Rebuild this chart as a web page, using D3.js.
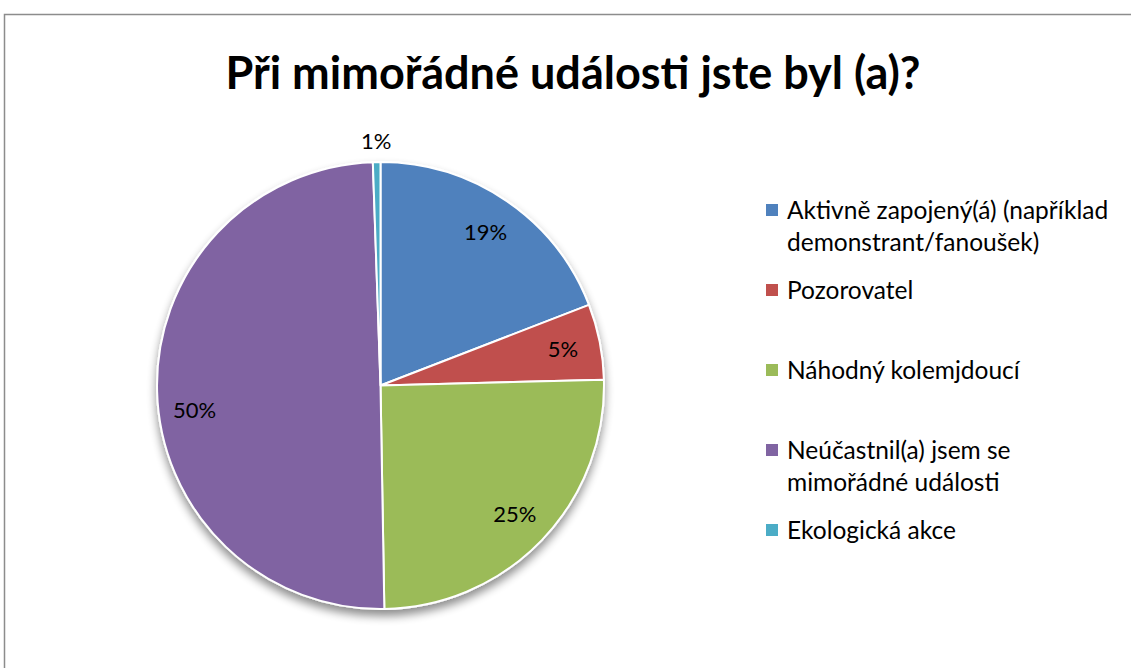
<!DOCTYPE html>
<html>
<head>
<meta charset="utf-8">
<script src="https://cdn.jsdelivr.net/npm/d3@7"></script>
<style>
  body { margin: 0; background: #fff; }
  text { font-family: Lato, "Open Sans", sans-serif; fill: #000; }
</style>
</head>
<body>
<div id="chart"></div>
<script>
var width = 1131;
var height = 668;

// data
var categories = [
  "Aktivně zapojený(á) (například demonstrant/fanoušek)",
  "Pozorovatel",
  "Náhodný kolemjdoucí",
  "Neúčastnil(a) jsem se mimořádné události",
  "Ekologická akce"
];
var legendLines = [
  ["Aktivně zapojený(á) (například", "demonstrant/fanoušek)"],
  ["Pozorovatel"],
  ["Náhodný kolemjdoucí"],
  ["Neúčastnil(a) jsem se", "mimořádné události"],
  ["Ekologická akce"]
];
var counts = [35, 10, 46, 91, 1];
var colors = ["#4F81BD", "#C0504D", "#9BBB59", "#8064A2", "#4BACC6"];
var legendY = [210, 290, 370, 450, 530];

var total = d3.sum(counts);

var svg = d3.select("#chart")
  .append("svg")
  .attr("width", width)
  .attr("height", height);

// shadow filter
var defs = svg.append("defs");
var filter = defs.append("filter")
  .attr("id", "shadow")
  .attr("x", "-20%").attr("y", "-20%")
  .attr("width", "140%").attr("height", "140%");
filter.append("feGaussianBlur").attr("in", "SourceAlpha").attr("stdDeviation", 5);
filter.append("feOffset").attr("dx", 0).attr("dy", 6).attr("result", "blur");
filter.append("feComponentTransfer").append("feFuncA").attr("type", "linear").attr("slope", 0.45);
var merge = filter.append("feMerge");
merge.append("feMergeNode");
merge.append("feMergeNode").attr("in", "SourceGraphic");

// chart frame
svg.append("path")
  .attr("d", "M4.5," + (height + 5) + "V14.5H" + (width + 5))
  .attr("fill", "none")
  .attr("stroke", "#8c8c8c")
  .attr("stroke-width", 1.5);

// title
svg.append("text")
  .attr("x", 573)
  .attr("y", 89)
  .attr("text-anchor", "middle")
  .style("font-size", "45px")
  .style("font-weight", "bold")
  .text("Při mimořádné události jste byl (a)?");

// pie
var cx = 380.5, cy = 385.5, radius = 223.5;

var pie = d3.pie().sort(null).value(function (d) { return d; });
var arcs = pie(counts);

var arc = d3.arc().innerRadius(0).outerRadius(radius);
var labelArc = d3.arc().innerRadius(186).outerRadius(186);
var outerLabelArc = d3.arc().innerRadius(244).outerRadius(244);

var g = svg.append("g")
  .attr("transform", "translate(" + cx + "," + cy + ")");

g.append("g")
  .attr("filter", "url(#shadow)")
  .selectAll("path")
  .data(arcs)
  .enter()
  .append("path")
  .attr("d", arc)
  .attr("fill", function (d, i) { return colors[i]; })
  .attr("stroke", "#fff")
  .attr("stroke-width", 2)
  .attr("stroke-linejoin", "round");

g.selectAll("text.pct")
  .data(arcs)
  .enter()
  .append("text")
  .attr("class", "pct")
  .attr("transform", function (d) {
    var p = (d.endAngle - d.startAngle) < 0.1 ? outerLabelArc.centroid(d) : labelArc.centroid(d);
    // the half slice label sits a bit lower, as in the original
    if (d.data / total > 0.4) p[1] += 20;
    return "translate(" + p + ")";
  })
  .attr("text-anchor", "middle")
  .attr("dy", "0.35em")
  .style("font-size", "22px")
  .text(function (d) { return Math.round(d.data / total * 100) + "%"; });

// legend
var legend = svg.append("g");
var items = legend.selectAll("g")
  .data(legendLines)
  .enter()
  .append("g")
  .attr("transform", function (d, i) { return "translate(766," + legendY[i] + ")"; });

items.append("rect")
  .attr("x", 0)
  .attr("y", -6)
  .attr("width", 12)
  .attr("height", 12)
  .attr("fill", function (d, i) { return colors[i]; });

items.append("text")
  .style("font-size", "24.5px")
  .selectAll("tspan")
  .data(function (d) { return d; })
  .enter()
  .append("tspan")
  .attr("x", 21)
  .attr("y", function (d, i) { return i * 32 + 8.5; })
  .text(function (d) { return d; });
</script>
</body>
</html>
